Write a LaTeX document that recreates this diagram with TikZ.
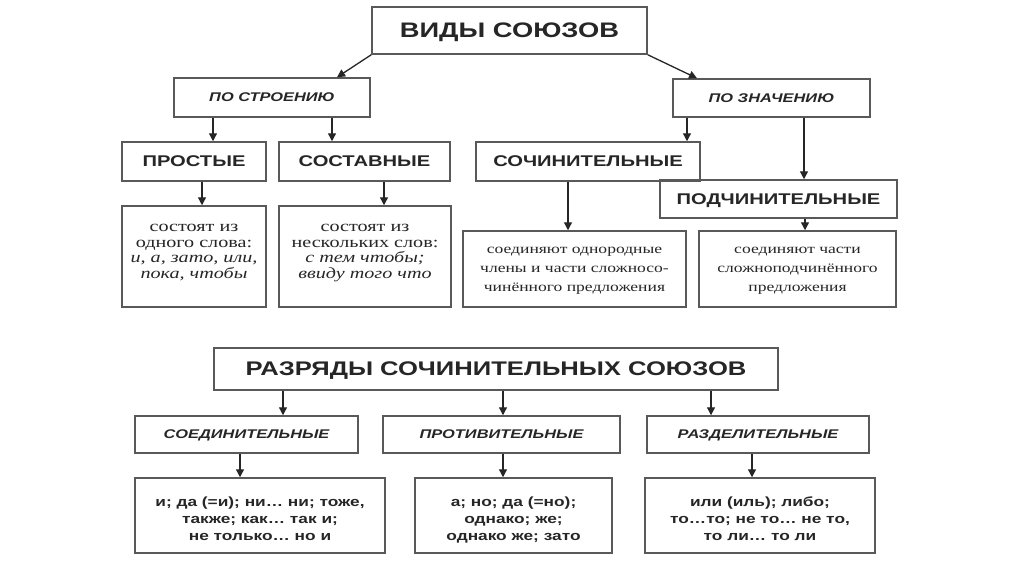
\documentclass[tikz,border=0pt]{standalone}
\usepackage{fontspec}
\setmainfont{Liberation Serif}[FakeStretch=1.3]
\newfontfamily\arialfont{Liberation Sans}[FakeStretch=1.3]
\usetikzlibrary{arrows.meta}

\begin{document}
\begin{tikzpicture}[
  x=1pt,y=-1pt,
  box/.style={draw=black!65,line width=1.5pt,inner sep=0pt,text=black!85},
  head/.style={box,text depth=0pt,font=\arialfont\bfseries\fontsize{21}{25}\selectfont},
  kind/.style={box,text depth=0pt,font=\arialfont\bfseries\fontsize{15.5}{19}\selectfont},
  group/.style={box,text depth=0pt,font=\arialfont\bfseries\itshape\fontsize{12.6}{16}\selectfont},
  desc/.style={box,align=center,text height=44pt,text depth=0pt,font=\fontsize{15.5}{15.7}\selectfont},
  mean/.style={box,align=center,text height=44pt,text depth=0pt,font=\fontsize{13.5}{19}\selectfont},
  list/.style={box,align=center,text height=50pt,text depth=0pt,font=\arialfont\bfseries\fontsize{13.3}{17}\selectfont},
  arr/.style={black!85,line width=1.3pt,-{Triangle[length=8pt,width=8pt]}}
]
  \fill[white] (0,0) rectangle (1024,574);

  % Виды союзов
  \node[head,minimum width=275pt,minimum height=47pt] (vidy) at (509.5,30.5)
    {ВИДЫ СОЮЗОВ};
  \node[group,minimum width=196pt,minimum height=39pt] (stroen) at (272,97.5)
    {ПО СТРОЕНИЮ};
  \node[group,minimum width=197pt,minimum height=38pt] (znach) at (771.5,98)
    {ПО ЗНАЧЕНИЮ};

  \node[kind,minimum width=144pt,minimum height=39pt] (prost) at (194,161.5)
    {ПРОСТЫЕ};
  \node[kind,minimum width=171pt,minimum height=39pt] (sost) at (364.5,161.5)
    {СОСТАВНЫЕ};
  \node[kind,minimum width=224pt,minimum height=39pt] (sochin) at (588,161.5)
    {СОЧИНИТЕЛЬНЫЕ};
  \node[kind,minimum width=237pt,minimum height=38pt] (podch) at (778.5,199)
    {ПОДЧИНИТЕЛЬНЫЕ};

  \node[desc,minimum width=144pt,minimum height=101pt] (dprost) at (194,256.5)
    {состоят из\\одного слова:\\\textit{и, а, зато, или,}\\\textit{пока, чтобы}};
  \node[desc,minimum width=172pt,minimum height=101pt] (dsost) at (365,256.5)
    {состоят из\\нескольких слов:\\\textit{с тем чтобы;}\\\textit{ввиду того что}};
  \node[mean,minimum width=223pt,minimum height=76pt] (dsochin) at (574.5,269)
    {соединяют однородные\\члены и части сложносо-\\чинённого предложения};
  \node[mean,minimum width=197pt,minimum height=76pt] (dpodch) at (797.5,269)
    {соединяют части\\сложноподчинённого\\предложения};

  \draw[arr] (vidy.south west) -- ([xshift=65pt]stroen.north);
  \draw[arr] (vidy.south east) -- ([xshift=-74.5pt]znach.north);
  \draw[arr] ([xshift=19pt]prost.north |- stroen.south) -- ([xshift=19pt]prost.north);
  \draw[arr] ([xshift=-32.5pt]sost.north |- stroen.south) -- ([xshift=-32.5pt]sost.north);
  \draw[arr] ([xshift=99pt]sochin.north |- znach.south) -- ([xshift=99pt]sochin.north);
  \draw[arr] ([xshift=25.5pt]podch.north |- znach.south) -- ([xshift=25.5pt]podch.north);
  \draw[arr] ([xshift=8pt]dprost.north |- prost.south) -- ([xshift=8pt]dprost.north);
  \draw[arr] ([xshift=19pt]dsost.north |- sost.south) -- ([xshift=19pt]dsost.north);
  \draw[arr] ([xshift=-6.5pt]dsochin.north |- sochin.south) -- ([xshift=-6.5pt]dsochin.north);
  \draw[arr] ([xshift=7.5pt]dpodch.north |- podch.south) -- ([xshift=7.5pt]dpodch.north);

  % Разряды сочинительных союзов
  \node[head,minimum width=564pt,minimum height=42pt,font=\arialfont\bfseries\fontsize{19.7}{24}\selectfont] (razr) at (496,369)
    {РАЗРЯДЫ СОЧИНИТЕЛЬНЫХ СОЮЗОВ};
  \node[group,minimum width=223pt,minimum height=37pt] (soed) at (246.5,434.5)
    {СОЕДИНИТЕЛЬНЫЕ};
  \node[group,minimum width=237pt,minimum height=37pt] (protiv) at (501.5,434.5)
    {ПРОТИВИТЕЛЬНЫЕ};
  \node[group,minimum width=222pt,minimum height=37pt] (razd) at (758,434.5)
    {РАЗДЕЛИТЕЛЬНЫЕ};

  \node[list,minimum width=250pt,minimum height=75pt] (lsoed) at (260,515.5)
    {и; да (=и); ни… ни; тоже,\\также; как… так и;\\не только… но и};
  \node[list,minimum width=197pt,minimum height=75pt] (lprotiv) at (513.5,515.5)
    {а; но; да (=но);\\однако; же;\\однако же; зато};
  \node[list,minimum width=230pt,minimum height=75pt] (lrazd) at (760,515.5)
    {или (иль); либо;\\то…то; не то… не то,\\то ли… то ли};

  \draw[arr] ([xshift=36.5pt]soed.north |- razr.south) -- ([xshift=36.5pt]soed.north);
  \draw[arr] ([xshift=1.5pt]protiv.north |- razr.south) -- ([xshift=1.5pt]protiv.north);
  \draw[arr] ([xshift=-47pt]razd.north |- razr.south) -- ([xshift=-47pt]razd.north);
  \draw[arr] ([xshift=-20pt]lsoed.north |- soed.south) -- ([xshift=-20pt]lsoed.north);
  \draw[arr] ([xshift=-10.5pt]lprotiv.north |- protiv.south) -- ([xshift=-10.5pt]lprotiv.north);
  \draw[arr] ([xshift=-8pt]lrazd.north |- razd.south) -- ([xshift=-8pt]lrazd.north);
\end{tikzpicture}
\end{document}
